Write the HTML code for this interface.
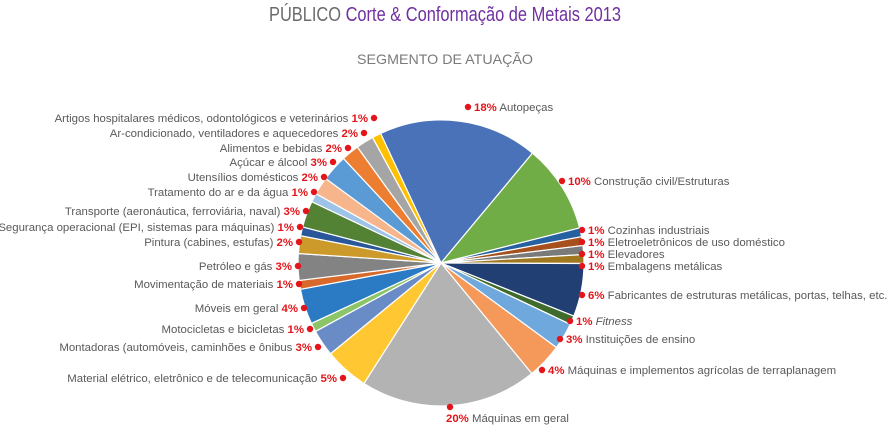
<!DOCTYPE html>
<html><head><meta charset="utf-8"><style>
html,body{margin:0;padding:0;background:#fff;}
svg{display:block;font-family:"Liberation Sans",sans-serif;}
.l{font-size:11.4px;fill:#595959;}
.p{fill:#e3151a;font-weight:bold;}
</style></head><body>
<svg id="s" width="890" height="425" viewBox="0 0 890 425">
<text x="445" y="21" text-anchor="middle" font-size="20" textLength="352" lengthAdjust="spacingAndGlyphs"><tspan fill="#6b6b6b">PÚBLICO </tspan><tspan fill="#7030a0">Corte &amp; Conformação de Metais 2013</tspan></text>
<text x="445" y="64" text-anchor="middle" font-size="14" fill="#7a7a7a" textLength="176" lengthAdjust="spacingAndGlyphs">SEGMENTO DE ATUAÇÃO</text>
<g id="pie"></g>
<g class="l" text-anchor="end">
<text x="368" y="122">Artigos hospitalares médicos, odontológicos e veterinários <tspan class="p">1%</tspan></text>
<text x="358" y="137">Ar-condicionado, ventiladores e aquecedores <tspan class="p">2%</tspan></text>
<text x="342" y="152">Alimentos e bebidas <tspan class="p">2%</tspan></text>
<text x="327" y="166">Açúcar e álcool <tspan class="p">3%</tspan></text>
<text x="318" y="181">Utensílios domésticos <tspan class="p">2%</tspan></text>
<text x="308" y="196">Tratamento do ar e da água <tspan class="p">1%</tspan></text>
<text x="300" y="215">Transporte (aeronáutica, ferroviária, naval) <tspan class="p">3%</tspan></text>
<text x="294" y="231">Segurança operacional (EPI, sistemas para máquinas) <tspan class="p">1%</tspan></text>
<text x="293" y="246">Pintura (cabines, estufas) <tspan class="p">2%</tspan></text>
<text x="292" y="270">Petróleo e gás <tspan class="p">3%</tspan></text>
<text x="293" y="288">Movimentação de materiais <tspan class="p">1%</tspan></text>
<text x="298" y="312">Móveis em geral <tspan class="p">4%</tspan></text>
<text x="304" y="333">Motocicletas e bicicletas <tspan class="p">1%</tspan></text>
<text x="312" y="351">Montadoras (automóveis, caminhões e ônibus <tspan class="p">3%</tspan></text>
<text x="337" y="382">Material elétrico, eletrônico e de telecomunicação <tspan class="p">5%</tspan></text>
</g>
<g class="l">
<text x="474" y="111"><tspan class="p">18%</tspan> Autopeças</text>
<text x="568" y="185"><tspan class="p">10%</tspan> Construção civil/Estruturas</text>
<text x="588" y="234"><tspan class="p">1%</tspan> Cozinhas industriais</text>
<text x="588" y="246"><tspan class="p">1%</tspan> Eletroeletrônicos de uso doméstico</text>
<text x="588" y="258"><tspan class="p">1%</tspan> Elevadores</text>
<text x="588" y="270"><tspan class="p">1%</tspan> Embalagens metálicas</text>
<text x="588" y="299"><tspan class="p">6%</tspan> Fabricantes de estruturas metálicas, portas, telhas, etc.</text>
<text x="576" y="325"><tspan class="p">1%</tspan> <tspan font-style="italic">Fitness</tspan></text>
<text x="566" y="343"><tspan class="p">3%</tspan> Instituições de ensino</text>
<text x="548" y="374"><tspan class="p">4%</tspan> Máquinas e implementos agrícolas de terraplanagem</text>
<text x="446" y="422"><tspan class="p">20%</tspan> Máquinas em geral</text>
</g>
<g fill="#e3151a">
<circle cx="374" cy="118" r="3.2"/><circle cx="364" cy="133" r="3.2"/><circle cx="348" cy="148" r="3.2"/>
<circle cx="333" cy="162" r="3.2"/><circle cx="324" cy="177" r="3.2"/><circle cx="314" cy="192" r="3.2"/>
<circle cx="306" cy="211" r="3.2"/><circle cx="300" cy="227" r="3.2"/><circle cx="299" cy="242" r="3.2"/>
<circle cx="298" cy="266" r="3.2"/><circle cx="299" cy="284" r="3.2"/><circle cx="304" cy="308" r="3.2"/>
<circle cx="310" cy="329" r="3.2"/><circle cx="318" cy="347" r="3.2"/><circle cx="343" cy="378" r="3.2"/>
<circle cx="468" cy="107" r="3.2"/><circle cx="562" cy="181" r="3.2"/><circle cx="582" cy="230" r="3.2"/>
<circle cx="582" cy="242" r="3.2"/><circle cx="582" cy="254" r="3.2"/><circle cx="582" cy="266" r="3.2"/>
<circle cx="582" cy="295" r="3.2"/><circle cx="570" cy="321" r="3.2"/><circle cx="560" cy="339" r="3.2"/>
<circle cx="542" cy="370" r="3.2"/><circle cx="450" cy="407" r="3.2"/>
</g>
</svg>
<script>
var d=[[18,"#4a72b8"],[10,"#70ad47"],[1,"#2560a0"],[1,"#a5501d"],[1,"#7a7a7a"],[1,"#a07820"],[6,"#213f72"],[1,"#3f6b2c"],[3,"#6fa8dc"],[4,"#f4995a"],[20,"#b3b3b3"],[5,"#ffc832"],[3,"#6a8cc6"],[1,"#8cc468"],[4,"#2a7bc4"],[1,"#d8692a"],[3,"#838383"],[2,"#cc9a2a"],[1,"#2a5799"],[3,"#548235"],[1,"#9dc3e6"],[2,"#f7b58c"],[3,"#5b9bd5"],[2,"#ed7d31"],[2,"#a5a5a5"],[1,"#ffc000"]];
var NS="http://www.w3.org/2000/svg";
var cx=441,cy=263,r=143,a=-25,g=document.getElementById("pie");
function pt(ang,rr){var t=ang*Math.PI/180;return [cx+rr*Math.sin(t),cy-rr*Math.cos(t)];}
d.forEach(function(s){var a2=a+s[0]*3.6;var p1=pt(a,r),p2=pt(a2,r);
var p=document.createElementNS(NS,"path");
p.setAttribute("d","M"+cx+","+cy+" L"+p1[0]+","+p1[1]+" A"+r+","+r+" 0 "+(a2-a>180?1:0)+" 1 "+p2[0]+","+p2[1]+" Z");
p.setAttribute("fill",s[1]);p.setAttribute("stroke","#fff");p.setAttribute("stroke-width","1.2");
g.appendChild(p);a=a2;});
</script>
</body></html>
